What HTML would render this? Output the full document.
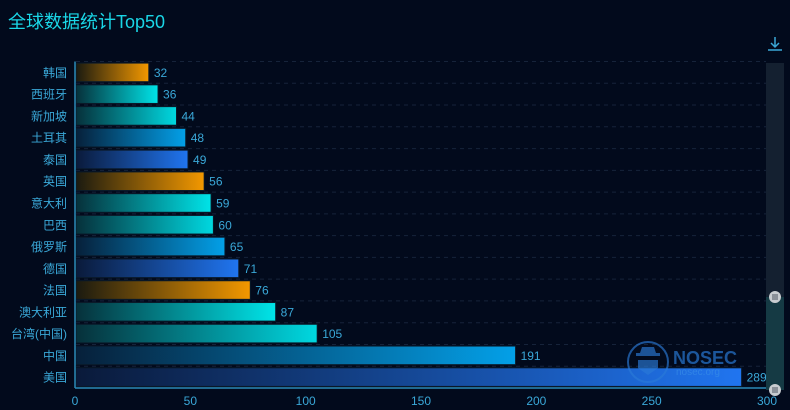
<!DOCTYPE html>
<html><head><meta charset="utf-8">
<style>
html,body{margin:0;padding:0;background:#020a1c;width:790px;height:410px;overflow:hidden}
svg{display:block}
text{font-family:"Liberation Sans","Noto Sans CJK SC",sans-serif}
</style></head>
<body>
<svg id="c" width="790" height="410" xmlns="http://www.w3.org/2000/svg">
<defs>
<linearGradient id="g0" x1="0" x2="1" y1="0" y2="0"><stop offset="0" stop-color="#1a1a10"/><stop offset="1" stop-color="#f39800"/></linearGradient>
<linearGradient id="g1" x1="0" x2="1" y1="0" y2="0"><stop offset="0" stop-color="#06303a"/><stop offset="1" stop-color="#00e4e8"/></linearGradient>
<linearGradient id="g2" x1="0" x2="1" y1="0" y2="0"><stop offset="0" stop-color="#06303a"/><stop offset="1" stop-color="#00d8e0"/></linearGradient>
<linearGradient id="g3" x1="0" x2="1" y1="0" y2="0"><stop offset="0" stop-color="#06203a"/><stop offset="1" stop-color="#03a0e8"/></linearGradient>
<linearGradient id="g4" x1="0" x2="1" y1="0" y2="0"><stop offset="0" stop-color="#0a1a3a"/><stop offset="1" stop-color="#2075f0"/></linearGradient>
</defs>
<text x="8" y="28" font-size="18" fill="#1ad6e6">全球数据统计Top50</text>
<g stroke="#3ba7d6" stroke-width="1.5" fill="none"><path d="M775 37v10M771 43l4 4 4-4M768 50h14"/></g>
<g id="plot"></g>
<rect x="766" y="63" width="18" height="327" fill="#142030"/>
<rect x="766" y="297" width="18" height="93" fill="#153a44"/>
<circle cx="775" cy="297" r="6" fill="#c8ccd0"/><rect x="772" y="294" width="6" height="6" fill="#8a9098"/>
<circle cx="775" cy="390" r="6" fill="#c8ccd0"/><rect x="772" y="387" width="6" height="6" fill="#8a9098"/>
<g opacity="0.65">
<circle cx="648" cy="362" r="20" fill="none" stroke="#2a7ad8" stroke-width="2"/>
<path d="M636 356h24v-3h-4l-2-6h-12l-2 6h-4z" fill="#2a7ad8"/>
<path d="M638 360h20v8l-10 7-10-7z" fill="#2a7ad8"/>
<text x="673" y="364" font-size="18" font-weight="bold" fill="#2a80e0">NOSEC</text>
<text x="676" y="375" font-size="10" fill="#3a90e8">nosec.org</text>
</g>
</svg>
<script>
(function(){
var names=["韩国","西班牙","新加坡","土耳其","泰国","英国","意大利","巴西","俄罗斯","德国","法国","澳大利亚","台湾(中国)","中国","美国"];
var vals=[32,36,44,48,49,56,59,60,65,71,76,87,105,191,289];
var x0=75,sc=692/300,T=61.5,B=388,bh=(B-T)/15;
var s="";
for(var k=0;k<15;k++){var y=T+k*bh;s+='<line x1="76" x2="766" y1="'+y+'" y2="'+y+'" stroke="#16233a" stroke-dasharray="4,4"/>';}
for(var i=0;i<15;i++){
 var c=T+bh*i+bh/2, w=vals[i]*sc, g=i%5;
 s+='<rect x="76" y="'+(c-9.3)+'" width="'+(w-1)+'" height="18.6" fill="url(#g'+g+')" stroke="#0a1a2a" stroke-width="1"/>';
 s+='<text x="'+(x0+w+5)+'" y="'+(c+4.5)+'" font-size="12" fill="#3aa8d8">'+vals[i]+'</text>';
 s+='<text x="67" y="'+(c+4.5)+'" font-size="12" fill="#3aa8d8" text-anchor="end">'+names[i]+'</text>';
}
s+='<line x1="75" x2="75" y1="'+T+'" y2="388" stroke="#2a8ab8" stroke-width="1.5"/>';
s+='<line x1="75" x2="767" y1="388" y2="388" stroke="#2a8ab8" stroke-width="1.5"/>';
for(var t=0;t<=300;t+=50){s+='<text x="'+(x0+t*sc)+'" y="405" font-size="12" fill="#3aa8d8" text-anchor="middle">'+t+'</text>';}
document.getElementById("plot").innerHTML=s;
})();
</script>
</body></html>
